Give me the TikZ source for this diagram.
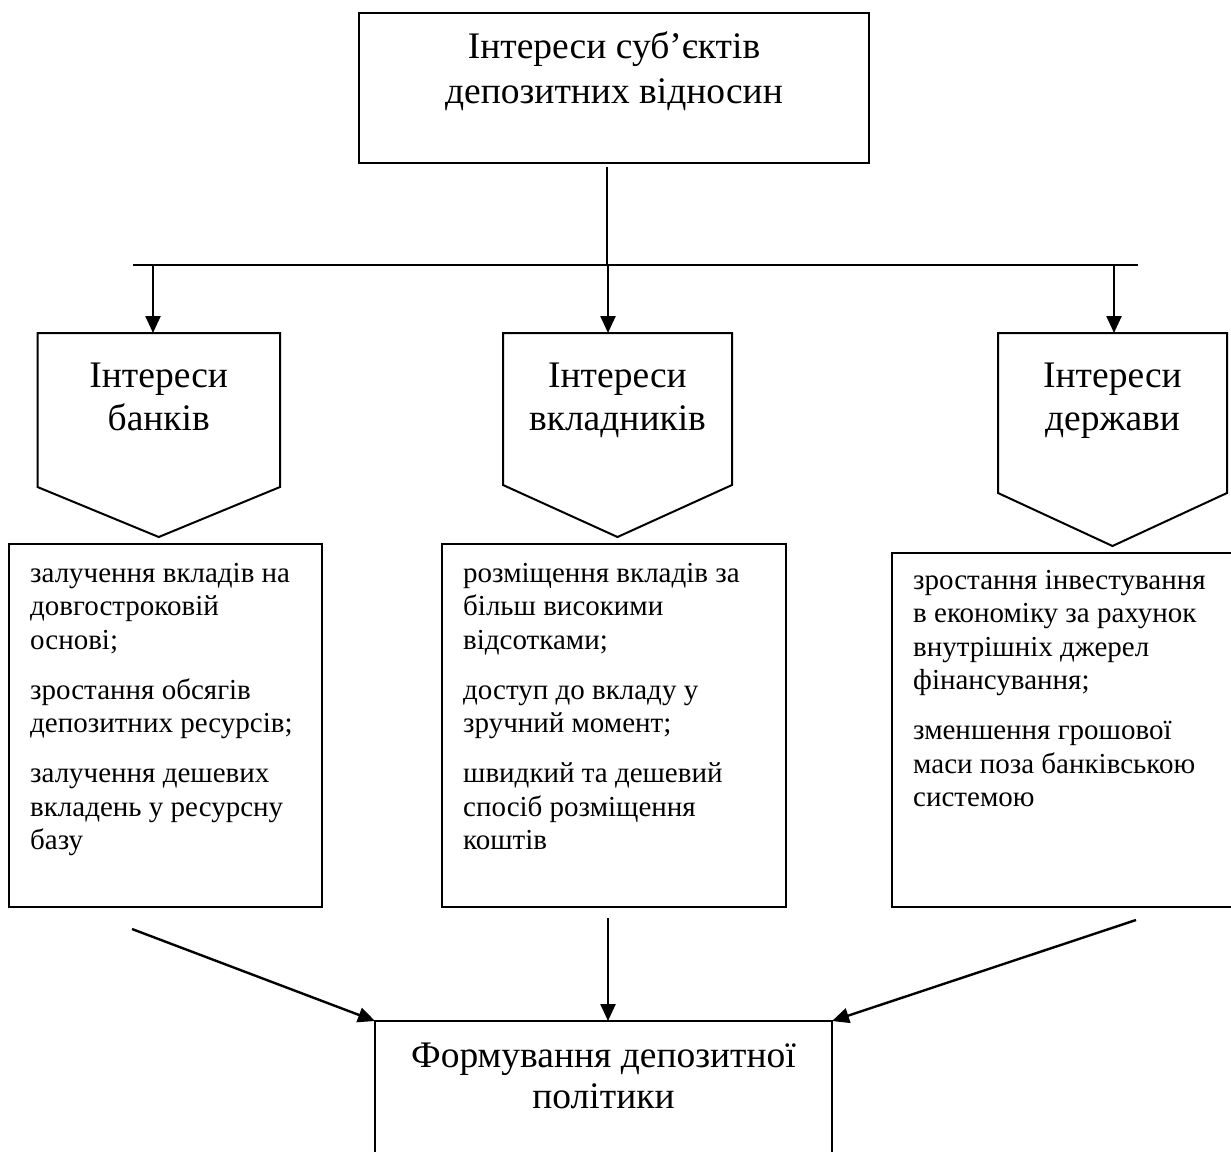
\documentclass[tikz,border=0pt]{standalone}
\usepackage{fontspec}
\setmainfont{Liberation Serif}
\usetikzlibrary{arrows.meta,calc}
\begin{document}
\begin{tikzpicture}[x=1pt,y=-1pt,
  boxline/.style={draw, line width=2pt, inner sep=0pt, outer sep=0pt},
  pentnode/.style={inner sep=0pt, outer sep=0pt},
  pentline/.style={line width=2pt, line join=miter},
  arr/.style={line width=2.4pt, -{Triangle[length=17pt,width=15pt]}},
  conn/.style={line width=2pt},
  head/.style={inner sep=0pt, anchor=base, font=\fontsize{37.5}{43}\selectfont},
  body/.style={inner sep=0pt, anchor=base west, font=\fontsize{29}{33.5}\selectfont},
]
\useasboundingbox (0,0) rectangle (1231,1151);
\fill[white] (0,0) rectangle (1231,1151);
\clip (0,0) rectangle (1231,1151);

% top box
\node[boxline, minimum width=510pt, minimum height=150pt] (top) at (614,88) {};
\node[head, font=\fontsize{37.5}{45}\selectfont] (toptext) at (614,58)
  {\begin{tabular}[t]{@{}c@{}}Інтереси суб’єктів\\депозитних відносин\end{tabular}};

% bus
\coordinate (tv) at (607,167);
\coordinate (busL) at (133,265);
\coordinate (busR) at (1138,265);
\draw[conn] (tv) -- (tv |- busL);
\draw[conn] (busL) -- (busR);

% pentagons
\node[pentnode, minimum width=242.5pt, minimum height=154pt] (pb) at (158.75,410) {};
\node[pentnode, minimum width=229pt, minimum height=152pt] (pm) at (617.5,409) {};
\node[pentnode, minimum width=229pt, minimum height=160pt] (pr) at (1112.5,413) {};
\draw[pentline] (pb.north west) -- (pb.north east) -- (pb.south east) -- ([yshift=-50pt]pb.south) -- (pb.south west) -- cycle;
\draw[pentline] (pm.north west) -- (pm.north east) -- (pm.south east) -- ([yshift=-52pt]pm.south) -- (pm.south west) -- cycle;
\draw[pentline] (pr.north west) -- (pr.north east) -- (pr.south east) -- ([yshift=-53pt]pr.south) -- (pr.south west) -- cycle;

\node[head] (pbt) at (158.75,387) {\begin{tabular}[t]{@{}c@{}}Інтереси\\банків\end{tabular}};
\node[head] (pmt) at (617.5,387) {\begin{tabular}[t]{@{}c@{}}Інтереси\\вкладників\end{tabular}};
\node[head] (prt) at (1112.5,387) {\begin{tabular}[t]{@{}c@{}}Інтереси\\держави\end{tabular}};

\coordinate (a1) at (153,265);
\coordinate (a2) at (608,265);
\coordinate (a3) at (1114,265);
\draw[arr] (a1) -- (a1 |- pb.north);
\draw[arr] (a2) -- (a2 |- pm.north);
\draw[arr] (a3) -- (a3 |- pr.north);

% content boxes
\node[boxline, minimum width=313pt, minimum height=363pt] (lb) at (165.5,725.5) {};
\node[boxline, minimum width=344pt, minimum height=363pt] (mb) at (614,725.5) {};
\node[boxline, minimum width=370pt, minimum height=354pt] (rb) at (1077,730) {};

\node[body] (lbt) at (30,582) {\begin{tabular}[t]{@{}l@{}}залучення вкладів на\\довгостроковій\\основі;\\[16.5pt]зростання обсягів\\депозитних ресурсів;\\[16.5pt]залучення дешевих\\вкладень у ресурсну\\базу\end{tabular}};
\node[body] (mbt) at (463,582) {\begin{tabular}[t]{@{}l@{}}розміщення вкладів за\\більш високими\\відсотками;\\[16.5pt]доступ до вкладу у\\зручний момент;\\[16.5pt]швидкий та дешевий\\спосіб розміщення\\коштів\end{tabular}};
\node[body] (rbt) at (913,589) {\begin{tabular}[t]{@{}l@{}}зростання інвестування\\в економіку за рахунок\\внутрішніх джерел\\фінансування;\\[16.5pt]зменшення грошової\\маси поза банківською\\системою\end{tabular}};

% bottom box
\node[boxline, minimum width=457pt, minimum height=159pt] (bot) at (603.5,1100.5) {};
\node[head, font=\fontsize{37.5}{41}\selectfont] (bott) at (603.5,1067)
  {\begin{tabular}[t]{@{}c@{}}Формування депозитної\\політики\end{tabular}};

\coordinate (la) at (132,929);
\coordinate (ma) at (608,918);
\coordinate (ra) at (1136,920);
\draw[arr] (la) -- (bot.north west);
\draw[arr] (ma) -- (ma |- bot.north);
\draw[arr] (ra) -- (bot.north east);
\end{tikzpicture}
\end{document}
